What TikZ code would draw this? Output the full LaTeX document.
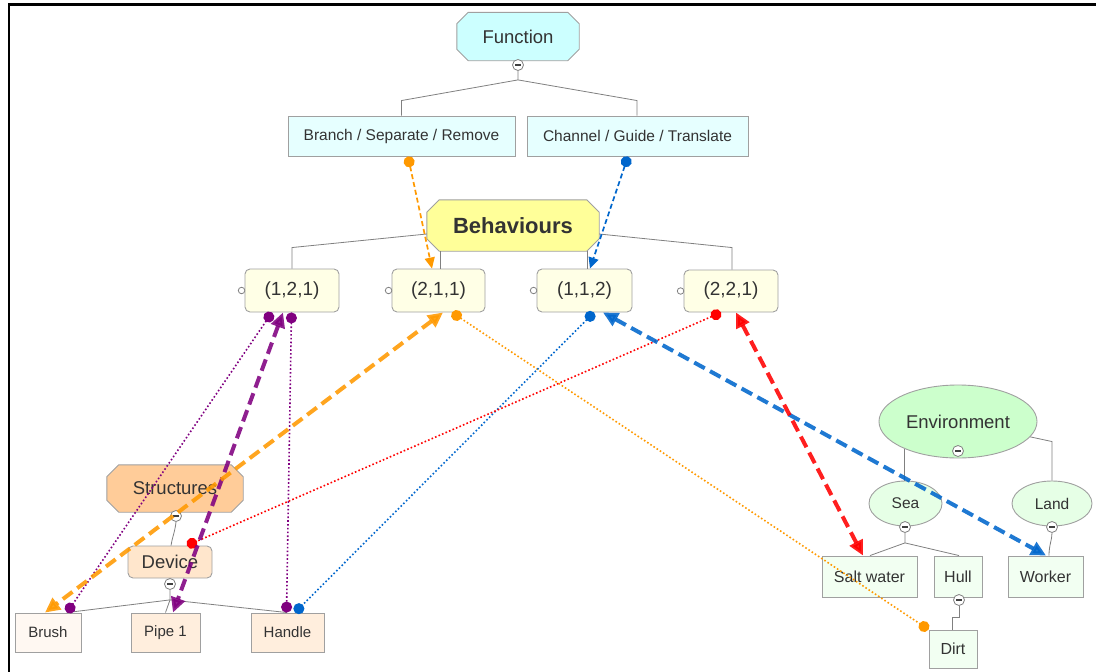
\documentclass[tikz,border=0pt]{standalone}
\usepackage{fontspec}
\setmainfont{Liberation Sans}
\usetikzlibrary{shapes.misc,shapes.geometric,arrows.meta,backgrounds}
\definecolor{bord}{HTML}{A0A0A0}
\definecolor{treeline}{HTML}{808080}
\definecolor{txt}{HTML}{333333}
\definecolor{funcfill}{HTML}{CCFFFF}
\definecolor{funcsub}{HTML}{E6FFFF}
\definecolor{behfill}{HTML}{FFFF99}
\definecolor{tupfill}{HTML}{FFFFE6}
\definecolor{strfill}{HTML}{FFCC99}
\definecolor{devfill}{HTML}{FFE6CC}
\definecolor{partfill}{HTML}{FFEEDD}
\definecolor{brushfill}{HTML}{FFF8F2}
\definecolor{envfill}{HTML}{CCFFCC}
\definecolor{envsub}{HTML}{E6FFE6}
\definecolor{envleaf}{HTML}{F2FFF2}
\definecolor{corange}{HTML}{FF9900}
\definecolor{cblue}{HTML}{0066CC}
\definecolor{cpurple}{HTML}{800080}
\definecolor{cred}{HTML}{FF0000}
\newcommand\myfs[1]{\fontsize{#1}{#1}\selectfont}
\newcommand\myocta[3]{%
  \draw[fill=#2, draw=bord, line width=0.9pt]
    ([xshift=#3]#1.north west) -- ([xshift=-#3]#1.north east) -- ([yshift=-#3]#1.north east)
    -- ([yshift=#3]#1.south east) -- ([xshift=-#3]#1.south east) -- ([xshift=#3]#1.south west)
    -- ([yshift=#3]#1.south west) -- ([yshift=-#3]#1.north west) -- cycle;}
\begin{document}
\begin{tikzpicture}[x=1pt,y=-1pt,
  base/.style={draw=bord, line width=0.9pt, text=txt, inner sep=0pt, align=center},
  octa/.style={text=txt, inner sep=0pt, rectangle},
  boxn/.style={base, rectangle},
  rbox/.style={base, rectangle, rounded corners=5pt},
  ell/.style={base, ellipse},
  tree/.style={draw=treeline, line width=0.8pt},
  coll/.style={circle, draw=treeline, fill=white, line width=0.8pt, minimum size=11pt, inner sep=0pt,
    path picture={\draw[line width=1.3pt, black!75] ([xshift=-2.6pt]path picture bounding box.center) -- ([xshift=2.6pt]path picture bounding box.center);}},
  lcirc/.style={circle, draw=treeline, fill=white, line width=0.8pt, minimum size=6.5pt, inner sep=0pt},
  thickc/.style={line width=4pt, dash pattern=on 12pt off 6pt, opacity=.88,
    {Triangle[length=15pt,width=14pt]}-{Triangle[length=15pt,width=14pt]}},
  fdash/.style={line width=1.7pt, dash pattern=on 5pt off 3pt,
    {Circle[length=11pt]}-{Triangle[length=11pt,width=10pt]}},
  dotl/.style={line width=1.6pt, dash pattern=on 1.6pt off 2.2pt,
    {Circle[length=11pt]}-{Circle[length=11pt]}}
]
\useasboundingbox (0,0) rectangle (1096,672);
\draw[line width=2.3pt] (8.8,672) -- (8.8,4.5) -- (1096,4.5);

% ---------------- nodes ----------------
\node[octa, minimum width=122pt, minimum height=48pt, font=\myfs{18.5}] (func) at (518,36.5) {Function};
\node[boxn, fill=funcsub, minimum width=227pt, minimum height=40pt, font=\myfs{15.5}] (bsr) at (401.5,136) {Branch / Separate / Remove};
\node[boxn, fill=funcsub, minimum width=221pt, minimum height=40pt, font=\myfs{15.5}] (cgt) at (637.5,136) {Channel / Guide / Translate};

\node[octa, minimum width=172pt, minimum height=51pt, font=\myfs{22}\bfseries] (beh) at (513,225.5) {Behaviours};
\node[rbox, fill=tupfill, minimum width=94pt, minimum height=43pt, font=\myfs{19}] (b121) at (292,290.5) {(1,2,1)};
\node[rbox, fill=tupfill, minimum width=93pt, minimum height=43pt, font=\myfs{19}] (b211) at (438.5,290.5) {(2,1,1)};
\node[rbox, fill=tupfill, minimum width=95pt, minimum height=43pt, font=\myfs{19}] (b112) at (584.5,290.5) {(1,1,2)};
\node[rbox, fill=tupfill, minimum width=94pt, minimum height=42pt, font=\myfs{19}] (b221) at (731,291) {(2,2,1)};

\node[octa, minimum width=136pt, minimum height=47pt, font=\myfs{18.5}] (struct) at (175,488.5) {Structures};
\node[rbox, fill=devfill, minimum width=84pt, minimum height=32pt, font=\myfs{18.5}] (device) at (170,562) {Device};
\node[boxn, fill=brushfill, minimum width=66pt, minimum height=39pt, font=\myfs{15}] (brush) at (48,632.5) {Brush};
\node[boxn, fill=partfill, minimum width=69pt, minimum height=39pt, font=\myfs{15}] (pipe) at (165.5,632.5) {Pipe 1};
\node[boxn, fill=partfill, minimum width=73pt, minimum height=39pt, font=\myfs{15}] (handle) at (287.5,632.5) {Handle};

\node[ell, fill=envfill, minimum width=158pt, minimum height=73pt, font=\myfs{18.5}] (env) at (958,421.5) {Environment};
\node[ell, fill=envsub, minimum width=73pt, minimum height=45pt, font=\myfs{15.5}] (sea) at (905.5,503.5) {Sea};
\node[ell, fill=envsub, minimum width=80pt, minimum height=45pt, font=\myfs{15.5}] (land) at (1052,503.5) {Land};
\node[boxn, fill=envleaf, minimum width=95pt, minimum height=41pt, font=\myfs{16}] (salt) at (869.5,576.5) {Salt water};
\node[boxn, fill=envleaf, minimum width=48pt, minimum height=41pt, font=\myfs{16}] (hull) at (958,576.5) {Hull};
\node[boxn, fill=envleaf, minimum width=75pt, minimum height=41pt, font=\myfs{16}] (worker) at (1045.5,576.5) {Worker};
\node[boxn, fill=envleaf, minimum width=48pt, minimum height=38pt, font=\myfs{16}] (dirt) at (953,649) {Dirt};

\begin{scope}[on background layer]
  \myocta{func}{funcfill}{11.5pt}
  \myocta{beh}{behfill}{12.5pt}
  \myocta{struct}{strfill}{12pt}
\end{scope}

% collapse circles
\node[coll] (cfunc) at (518,65) {};
\node[coll] (cstruct) at (176,516) {};
\node[coll] (cdev) at (170,584) {};
\node[coll] (cenv) at (958,451) {};
\node[coll] (csea) at (905,527) {};
\node[coll] (cland) at (1052,527) {};
\node[coll] (chull) at (959,600) {};

% small side circles
\node[lcirc] (l121) at ([xshift=-3pt]b121.west) {};
\node[lcirc] (l211) at ([xshift=-3pt]b211.west) {};
\node[lcirc] (l112) at ([xshift=-3pt]b112.west) {};
\node[lcirc] (l221) at ([xshift=-3pt]b221.west) {};

% ---------------- tree lines ----------------
\draw[tree] (cfunc.south) -- ++(0,9) coordinate (jf) -- ([yshift=15pt]bsr.north) -- (bsr.north);
\draw[tree] (jf) -- ([xshift=-0.5pt,yshift=15pt]cgt.north) -- ([xshift=-0.5pt]cgt.north);
\draw[tree] ([yshift=-8.5pt]beh.west) -- ([yshift=21pt]b121.north) -- (b121.north);
\draw[tree] ([xshift=-73pt]beh.south) -- ([xshift=1.5pt]b211.north);
\draw[tree] ([xshift=74pt]beh.south) -- ([xshift=2.5pt]b112.north);
\draw[tree] ([yshift=-8.5pt]beh.east) -- ([xshift=1pt,yshift=22pt]b221.north) -- ([xshift=1pt]b221.north);

\draw[tree] (cstruct.south) .. controls (175,532) and (172,538) .. ([xshift=1pt]device.north);
\draw[tree] (cdev.south) -- ++(0,10) coordinate (jd) -- ([xshift=19pt]brush.north);
\draw[tree] (jd) -- (pipe.north);
\draw[tree] (jd) -- ([xshift=-0.5pt]handle.north);

\draw[tree] (env.207) -- (env.207 |- sea.north);
\draw[tree] (env.-12) -- ([yshift=39pt]land.north) -- (land.north);
\draw[tree] (csea.south) -- ++(0,10) coordinate (js) -- ([xshift=0.5pt]salt.north);
\draw[tree] (js) -- ([xshift=1pt]hull.north);
\draw[tree] (cland.south) .. controls (1052,540) and (1049,545) .. ([xshift=3.5pt]worker.north);
\draw[tree] (chull.south) -- ++(0,11) -- ++(-7,0) -- ([xshift=-1pt]dirt.north);

% ---------------- connectors ----------------
% function -> behaviour
\draw[fdash, corange] ([xshift=6.5pt]bsr.south) -- ([xshift=-6.5pt]b211.north);
\draw[fdash, cblue] ([xshift=-9.5pt]cgt.south) -- ([xshift=5.5pt]b112.north);

% dotted links
\draw[dotl, cpurple] ([xshift=-20pt]b121.south) -- ([xshift=19pt]brush.north);
\draw[dotl, cpurple] ([xshift=-0.5pt]b121.south) -- ([xshift=-1pt]handle.north);
\draw[dotl, corange] ([xshift=13.5pt]b211.south) -- (dirt.north west);
\draw[dotl, cblue] ([xshift=9.5pt]b112.south) -- ([xshift=7.5pt]handle.north);
\draw[dotl, cred] ([xshift=-10pt]b221.south) -- ([xshift=17pt]device.north);

% thick dashed two-way links
\draw[thickc, cpurple] ([xshift=-9pt]b121.south) -- ([xshift=7.5pt]pipe.north);
\draw[thickc, corange] ([xshift=4.5pt]b211.south) -- ([xshift=-3pt]brush.north);
\draw[thickc, cblue] ([xshift=18.5pt]b112.south) -- ([xshift=0.5pt]worker.north);
\draw[thickc, cred] ([xshift=5pt]b221.south) -- ([xshift=-6.5pt]salt.north);
\end{tikzpicture}
\end{document}
